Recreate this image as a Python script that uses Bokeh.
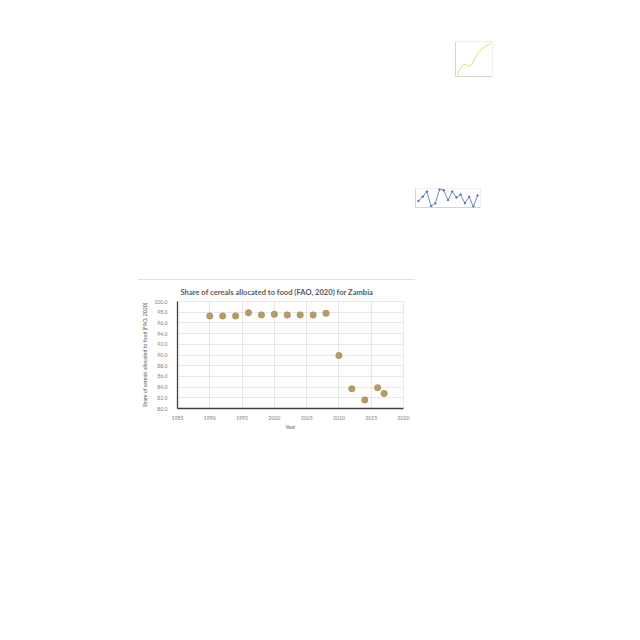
from bokeh.plotting import figure
from bokeh.layouts import column, row
from bokeh.models import Spacer, Div, NumeralTickFormatter, FixedTicker, Range1d
from bokeh.embed import file_html
from bokeh.resources import INLINE

# ---- main chart data ----
years = [1990, 1992, 1994, 1996, 1998, 2000, 2002, 2004, 2006, 2008, 2010, 2012, 2014, 2016, 2017]
share = [97.3, 97.3, 97.3, 97.9, 97.5, 97.6, 97.5, 97.5, 97.5, 97.8, 89.9, 83.7, 81.6, 83.9, 82.8]
x_ticks = [1985, 1990, 1995, 2000, 2005, 2010, 2015, 2020]
y_ticks = [80, 82, 84, 86, 88, 90, 92, 94, 96, 98, 100]

# ---- thumbnail data (relative values) ----
thumb1_x = [0, 1, 2, 3, 4, 5, 6, 7, 8, 9, 10, 11, 12]
thumb1_y = [2, 18, 30, 33, 28, 31, 45, 60, 70, 78, 84, 88, 94]
thumb2_x = list(range(15))
thumb2_y = [40, 50, 62, 28, 35, 67, 65, 42, 62, 48, 55, 35, 50, 27, 53]

TXT = "#7f7f7f"
FONT = "Lato"


def make_thumb(w, h, xs, ys, color, borders, marker=False):
    t = figure(width=w, height=h, output_backend="svg", toolbar_location=None,
               min_border_left=borders[0], min_border_right=borders[1],
               min_border_top=borders[2], min_border_bottom=borders[3])
    t.line(xs, ys, line_color=color, line_width=0.8)
    if marker:
        t.scatter(xs, ys, size=1.5, color=color)
    for ax in (t.xaxis, t.yaxis):
        ax.ticker = FixedTicker(ticks=[])
        ax.major_tick_line_color = None
        ax.minor_tick_line_color = None
        ax.axis_line_color = "#bbbbbb"
        ax.axis_line_width = 0.5
    t.grid.grid_line_color = None
    t.outline_line_color = "#eeeeee"
    return t


thumb1 = make_thumb(52, 50, thumb1_x, thumb1_y, "#e8c766", (11, 4, 5, 10))
thumb2 = make_thumb(80, 48, thumb2_x, thumb2_y, "#4a6fb5", (10, 5, 8, 21), marker=True)

# ---- main chart ----
p = figure(frame_width=226, frame_height=107, output_backend="svg", toolbar_location=None,
           min_border_left=39, min_border_right=12, min_border_top=21, min_border_bottom=26,
           x_range=Range1d(1985, 2020), y_range=Range1d(80, 100),
           title="Share of cereals allocated to food (FAO, 2020) for Zambia")
p.title.align = "left"
p.title.offset = 3
p.title.text_font = FONT
p.title.text_font_size = "7.6px"
p.title.text_font_style = "bold"
p.title.text_color = "#595959"
p.title.standoff = 9

p.scatter(years, share, size=6.5, fill_color="#b59b65", line_color="#a88e58", line_width=0.5)

p.xaxis.ticker = FixedTicker(ticks=x_ticks)
p.yaxis.ticker = FixedTicker(ticks=y_ticks)
p.yaxis.formatter = NumeralTickFormatter(format="0.0")
p.xaxis.axis_label = "Year"
p.yaxis.axis_label = "Share of cereals allocated to food (FAO, 2020)"
for ax in (p.xaxis, p.yaxis):
    ax.major_label_text_font = FONT
    ax.major_label_text_font_size = "5.2px"
    ax.major_label_text_color = TXT
    ax.axis_label_text_font = FONT
    ax.axis_label_text_font_size = "5.2px"
    ax.axis_label_text_font_style = "normal"
    ax.axis_label_text_color = "#595959"
    ax.major_tick_line_color = None
    ax.minor_tick_line_color = None
    ax.axis_line_color = "#3f3f3f"
    ax.axis_line_width = 1.3
p.xaxis.major_label_standoff = 1
p.xaxis.axis_label_standoff = 1
p.yaxis.major_label_standoff = 4
p.yaxis.axis_label_standoff = 3
p.grid.grid_line_color = "#d9d9d9"
p.grid.grid_line_width = 0.6
p.outline_line_color = "#d9d9d9"
p.outline_line_width = 0.6

sep = Div(width=277, height=1, margin=(0, 0, 0, 0), styles={"background-color": "#e0e0e0"})

layout = column(
    Spacer(height=36),
    row(Spacer(width=444), thumb1),
    Spacer(height=94),
    row(Spacer(width=405), thumb2),
    Spacer(height=51),
    row(Spacer(width=138), sep),
    row(Spacer(width=138), p),
)

open("out.html", "w").write(file_html(layout, INLINE))
